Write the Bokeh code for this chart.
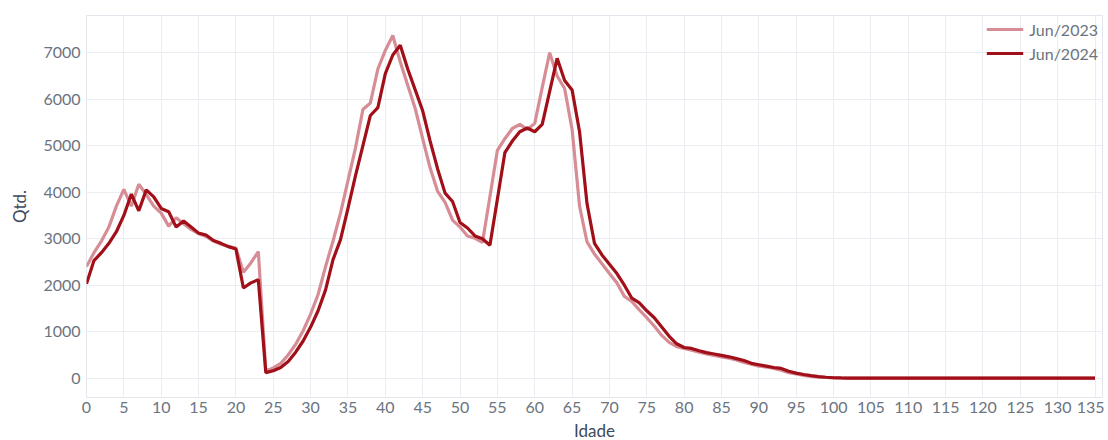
from bokeh.plotting import figure
from bokeh.models import FixedTicker, Range1d, Legend, LegendItem
from bokeh.embed import file_html
from bokeh.resources import INLINE

ages = list(range(0, 136))

jun_2023 = [
    2400, 2700, 2950, 3250, 3700, 4060, 3700, 4170, 3950, 3700,
    3550, 3270, 3450, 3320, 3200, 3110, 3050, 2950, 2880, 2830,
    2800, 2280, 2480, 2720, 160, 220, 320, 500, 730, 1020,
    1380, 1800, 2400, 2950, 3550, 4250, 4950, 5780, 5920, 6650,
    7050, 7370, 6800, 6300, 5800, 5150, 4520, 4020, 3780, 3400,
    3250, 3060, 3010, 2920, 3900, 4900, 5150, 5370, 5460, 5350,
    5480, 6250, 7000, 6500, 6230, 5350, 3700, 2930, 2670, 2460,
    2250, 2050, 1760, 1650, 1470, 1300, 1120, 920, 770, 680,
    640, 600, 560, 520, 490, 460, 430, 390, 340, 300,
    260, 240, 210, 170, 120, 90, 60, 40, 25, 15,
    8, 4, 2, 1, 1, 1, 1, 1, 1, 1,
    1, 1, 1, 1, 1, 1, 1, 1, 1, 1,
    1, 1, 1, 1, 1, 1, 1, 1, 1, 1,
    1, 1, 1, 1, 1, 1,
]

jun_2024 = [
    2030, 2530, 2700, 2900, 3150, 3500, 3960, 3600, 4050, 3900,
    3650, 3580, 3250, 3380, 3250, 3120, 3080, 2960, 2900, 2830,
    2780, 1940, 2050, 2120, 120, 160, 230, 360, 560, 800,
    1100, 1450, 1900, 2550, 2980, 3650, 4350, 5000, 5650, 5820,
    6550, 6950, 7160, 6650, 6200, 5750, 5100, 4500, 3980, 3800,
    3350, 3230, 3060, 3000, 2860, 3850, 4850, 5100, 5300, 5380,
    5300, 5460, 6170, 6880, 6400, 6200, 5300, 3750, 2900, 2650,
    2450, 2250, 2000, 1720, 1620, 1450, 1300, 1100, 900, 740,
    660, 640, 590, 550, 520, 490, 460, 420, 380, 320,
    290, 260, 230, 210, 150, 110, 80, 55, 35, 20,
    10, 5, 3, 2, 1, 1, 1, 1, 1, 1,
    1, 1, 1, 1, 1, 1, 1, 1, 1, 1,
    1, 1, 1, 1, 1, 1, 1, 1, 1, 1,
    1, 1, 1, 1, 1, 1,
]

x_ticks = list(range(0, 136, 5))
y_ticks = list(range(0, 7001, 1000))

FONT = "Lato"
TICK_COLOR = "#6b7480"
LABEL_COLOR = "#3f4a5c"
GRID_COLOR = "#eaedf2"

p = figure(
    width=1104, height=443,
    output_backend="svg", toolbar_location=None,
    x_range=Range1d(0, 136), y_range=Range1d(-415, 7800),
    min_border_left=86, min_border_right=2, min_border_top=15, min_border_bottom=38,
)
p.background_fill_color = "white"
p.border_fill_color = "white"
p.outline_line_color = "#e3e6ec"
p.outline_line_width = 1

r1 = p.line(ages, jun_2023, line_color="#d4878f", line_width=3.2, line_alpha=0.95)
r2 = p.line(ages, jun_2024, line_color="#a10f18", line_width=3.2)

for ax in (p.xaxis[0], p.yaxis[0]):
    ax.axis_line_color = None
    ax.major_tick_line_color = None
    ax.minor_tick_line_color = None
    ax.major_tick_out = 0
    ax.major_tick_in = 0
    ax.major_label_text_font = FONT
    ax.major_label_text_font_size = "16px"
    ax.major_label_text_color = TICK_COLOR
    ax.axis_label_text_font = FONT
    ax.axis_label_text_font_size = "17px"
    ax.axis_label_text_font_style = "normal"
    ax.axis_label_text_color = LABEL_COLOR

p.xaxis.ticker = FixedTicker(ticks=x_ticks)
p.yaxis.ticker = FixedTicker(ticks=y_ticks)
p.xaxis.axis_label = "Idade"
p.yaxis.axis_label = "Qtd."
p.xaxis.major_label_standoff = 4
p.xaxis.axis_label_standoff = 4
p.yaxis.major_label_standoff = 6
p.yaxis.axis_label_standoff = 10

p.xgrid.ticker = FixedTicker(ticks=x_ticks)
p.ygrid.ticker = FixedTicker(ticks=y_ticks)
p.xgrid.grid_line_color = GRID_COLOR
p.ygrid.grid_line_color = GRID_COLOR

legend = Legend(
    items=[LegendItem(label="Jun/2023", renderers=[r1]),
           LegendItem(label="Jun/2024", renderers=[r2])],
    location="top_right",
    border_line_color=None,
    background_fill_alpha=0.0,
    label_text_font=FONT,
    label_text_font_size="16px",
    label_text_color=TICK_COLOR,
    glyph_width=37,
    glyph_height=20,
    label_height=20,
    spacing=4,
    padding=5,
    margin=4,
    label_standoff=6,
)
p.add_layout(legend)

open("out.html", "w").write(file_html(p, INLINE))
